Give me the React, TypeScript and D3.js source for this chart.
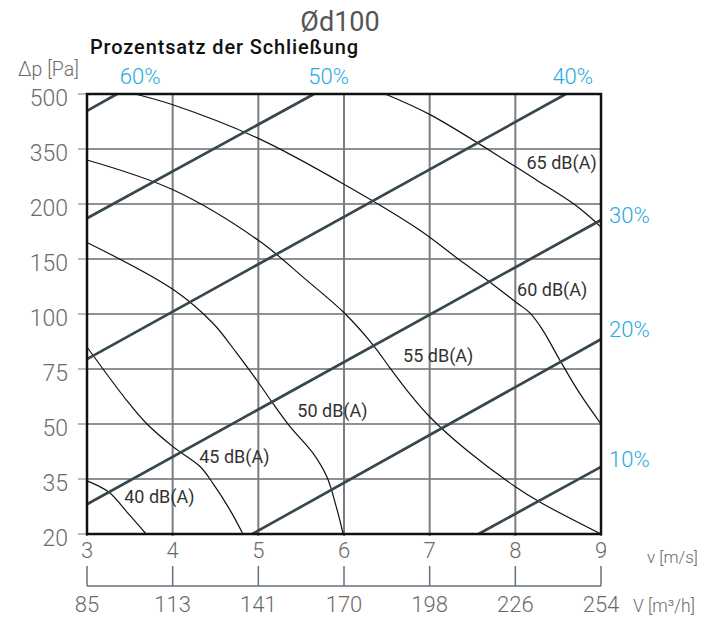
import React from "react";
import * as d3 from "d3";

type Pt = [number, number];

// Axes
const vTicks = [3, 4, 5, 6, 7, 8, 9];
const flowTicks = [85, 113, 141, 170, 198, 226, 254];
const pTicks = [500, 350, 200, 150, 100, 75, 50, 35, 20];

// Noise curves [v m/s, Δp Pa]
const curve40: Pt[] = [[3, 34.5], [3.25, 31.5], [3.48, 25.6], [3.69, 20]];
const curve45: Pt[] = [[3, 85], [3.46, 60.9], [3.7, 50], [4.01, 43.7], [4.32, 38.4], [4.47, 33.8], [4.67, 26.5], [4.82, 20]];
const curve50: Pt[] = [[3, 165], [4.01, 122], [4.47, 95.8], [4.75, 82.1], [4.98, 70], [5.17, 59.4], [5.37, 49.3], [5.64, 42], [5.8, 35.6], [5.91, 27.4], [5.99, 20]];
const curve55: Pt[] = [[3, 320], [4.01, 238], [5.0, 167], [5.56, 131], [6.01, 100.5], [6.34, 85.9], [6.54, 75.3], [6.73, 65.5], [7.0, 53.3], [7.43, 42.9], [8.0, 32.9], [8.31, 28.4], [9, 20]];
const curve60: Pt[] = [[3.56, 500], [4.01, 470], [5.0, 379], [6.03, 250], [6.89, 176], [7.35, 149], [7.67, 131], [8.02, 110], [8.17, 101], [8.32, 92.7], [8.52, 79], [8.75, 64], [9, 50]];
const curve65: Pt[] = [[6.48, 500], [7.01, 443], [8.0, 302], [8.25, 265], [8.7, 199], [9, 179]];

const noiseCurves = [curve40, curve45, curve50, curve55, curve60, curve65];
const noiseLabels = ["40 dB(A)", "45 dB(A)", "50 dB(A)", "55 dB(A)", "60 dB(A)", "65 dB(A)"];
const noiseLabelAt: Pt[] = [[3.435, 28.5], [4.31, 39.3], [5.455, 53.3], [6.69, 78], [8.02, 116.4], [8.13, 294.6]];

// Damper closing lines
const damper60: Pt[] = [[3, 454], [3.35, 500]];
const damper50: Pt[] = [[3, 187], [5.65, 500]];
const damper40: Pt[] = [[3, 79.5], [8.59, 500]];
const damper30: Pt[] = [[3, 28.1], [9, 185.5]];
const damper20: Pt[] = [[4.93, 20], [9, 88.5]];
const damper10: Pt[] = [[7.57, 20], [9, 38.3]];
const damperLines = [damper60, damper50, damper40, damper30, damper20, damper10];

const topPctLabels = ["60%", "50%", "40%"];
const topPctV = [3.62, 5.82, 8.67];
const rightPctLabels = ["30%", "20%", "10%"];
const rightPctP = [183, 89.4, 38.4];

const W = 709;
const H = 620;
const L = 87;
const R = 601;
const T = 94;
const B = 534;

const FONT = "Roboto, 'Liberation Sans', Arial, sans-serif";
const GRAY = "#6b6b6b";
const BLUE = "#27a9e1";
const SLATE = "#37474f";

export default function App() {
  const x = d3.scaleLinear().domain([3, 9]).range([L, R]);
  const y = d3
    .scaleLinear()
    .domain(pTicks)
    .range(pTicks.map((_, i) => T + (i * (B - T)) / (pTicks.length - 1)));
  const line = d3
    .line<Pt>()
    .x((d) => x(d[0]))
    .y((d) => y(d[1]))
    .curve(d3.curveCatmullRom.alpha(0.5));
  const straight = d3
    .line<Pt>()
    .x((d) => x(d[0]))
    .y((d) => y(d[1]));

  const axisY = 586;

  return (
    <svg
      width={W}
      height={H}
      style={{ position: "absolute", left: 0, top: 0, background: "#fff" }}
      fontFamily={FONT}
    >
      <rect x={0} y={0} width={W} height={H} fill="#fff" />
      {/* title */}
      <text x={340} y={31} textAnchor="middle" fontSize={27} fill="#555" fontWeight={400}>
        Ød100
      </text>
      <text x={90} y={54} fontSize={20} fill="#111" fontWeight={500} textLength={268} lengthAdjust="spacing">
        Prozentsatz der Schließung
      </text>
      <text x={18} y={76} fontSize={19.5} fill={GRAY} fontWeight={300}>
        Δp [Pa]
      </text>

      {/* horizontal grid */}
      {pTicks.map((p) => (
        <g key={"h" + p}>
          <line x1={L} x2={R} y1={y(p)} y2={y(p)} stroke="#222" strokeWidth={1.2} />
          <line x1={78} x2={L} y1={y(p)} y2={y(p)} stroke="#bbb" strokeWidth={2} />
          <text x={68} y={y(p) + 11.5} textAnchor="end" fontSize={23} fill={GRAY} fontWeight={300}>
            {p}
          </text>
        </g>
      ))}
      {/* vertical grid */}
      {vTicks.map((v) => (
        <g key={"v" + v}>
          <line x1={x(v)} x2={x(v)} y1={T} y2={B + 2} stroke="#7d7d7d" strokeWidth={2} />
          <text x={x(v)} y={558} textAnchor="middle" fontSize={22} fill={GRAY} fontWeight={300}>
            {v}
          </text>
        </g>
      ))}

      {/* noise curves */}
      {noiseCurves.map((c, i) => (
        <path key={"c" + i} d={line(c) || ""} fill="none" stroke="#111" strokeWidth={1.2} />
      ))}
      {noiseLabels.map((t, i) => (
        <text
          key={"nl" + i}
          x={x(noiseLabelAt[i][0])}
          y={y(noiseLabelAt[i][1])}
          fontSize={18}
          fill="#333"
          fontWeight={400}
        >
          {t}
        </text>
      ))}

      {/* damper lines */}
      {damperLines.map((d, i) => (
        <path key={"d" + i} d={straight(d) || ""} fill="none" stroke={SLATE} strokeWidth={2.7} />
      ))}

      {/* frame */}
      <rect x={L} y={T} width={R - L} height={B - T} fill="none" stroke="#111" strokeWidth={2.5} />

      {/* percent labels */}
      {topPctLabels.map((t, i) => (
        <text key={"tp" + i} x={x(topPctV[i])} y={84} textAnchor="middle" fontSize={22} fill={BLUE} fontWeight={300}>
          {t}
        </text>
      ))}
      {rightPctLabels.map((t, i) => (
        <text key={"rp" + i} x={609} y={y(rightPctP[i])} fontSize={22} fill={BLUE} fontWeight={300}>
          {t}
        </text>
      ))}

      <text x={647} y={563} fontSize={17} fill={GRAY} fontWeight={300}>
        v [m/s]
      </text>

      {/* secondary axis: volume flow */}
      <line x1={L} x2={R} y1={axisY} y2={axisY} stroke="#66727e" strokeWidth={1.5} />
      {vTicks.map((v, i) => (
        <g key={"f" + v}>
          <line x1={x(v)} x2={x(v)} y1={566} y2={axisY} stroke="#66727e" strokeWidth={1.5} />
          <text x={x(v)} y={612} textAnchor="middle" fontSize={22} fill={GRAY} fontWeight={300}>
            {flowTicks[i]}
          </text>
        </g>
      ))}
      <text x={633} y={612} fontSize={17.5} fill={GRAY} fontWeight={300}>
        V [m³/h]
      </text>
    </svg>
  );
}
